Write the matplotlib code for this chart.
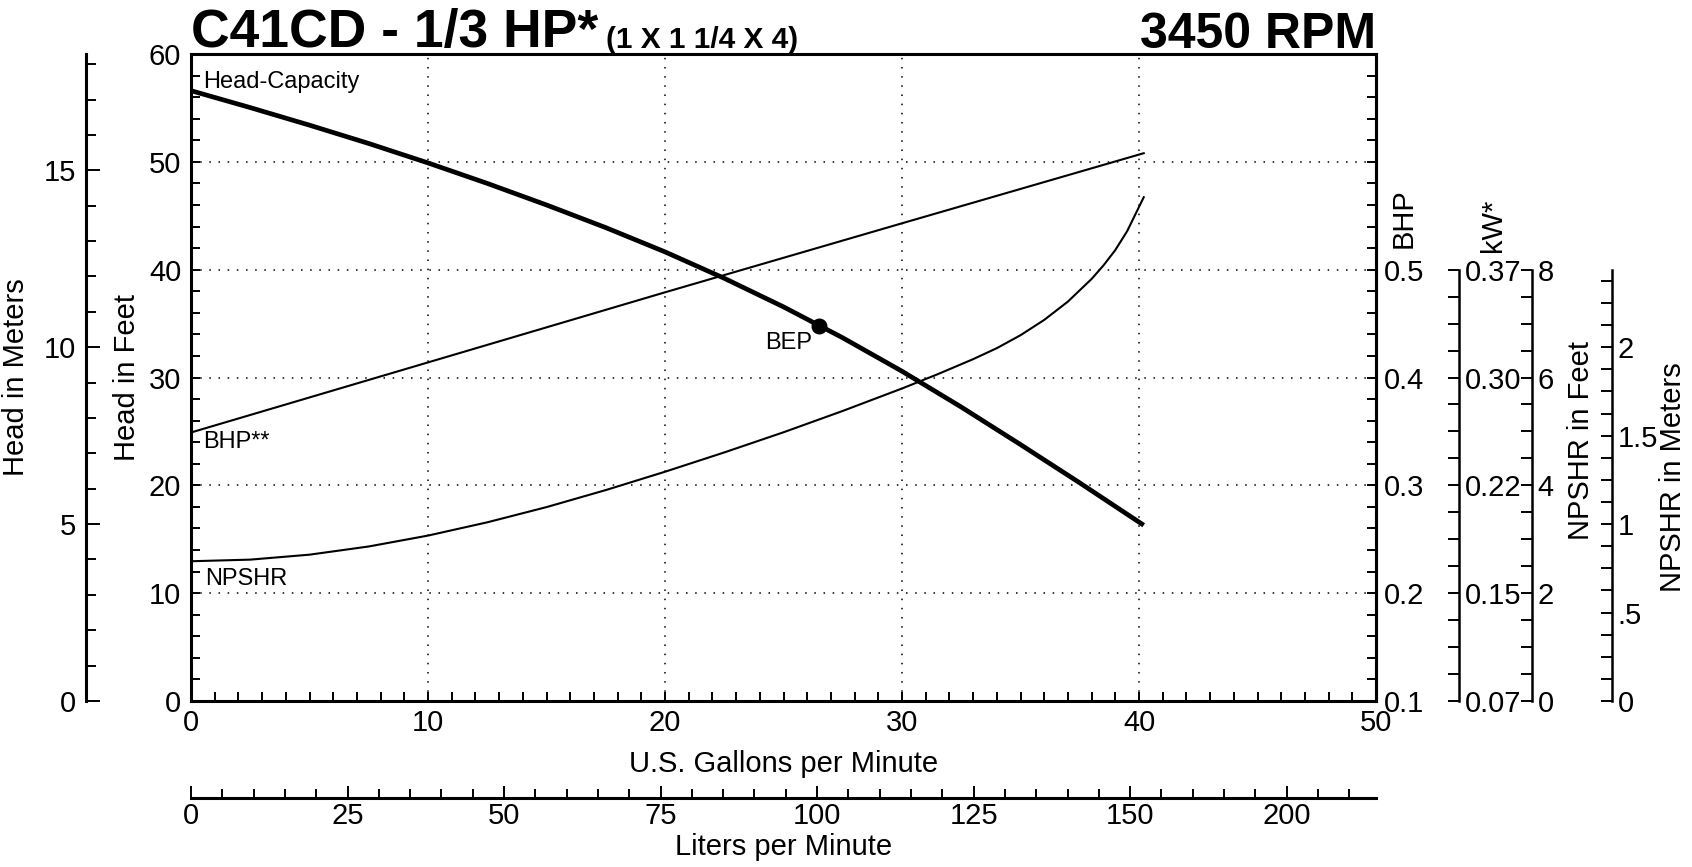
import numpy as np
import matplotlib
matplotlib.use('Agg')
import matplotlib.pyplot as plt
from matplotlib.ticker import FixedLocator, FixedFormatter, MultipleLocator

plt.rcParams['font.family'] = ['Liberation Sans', 'DejaVu Sans']

# ---------------- data ----------------
head_gpm = [0, 2.5, 5, 7.5, 10, 12.5, 15, 17.5, 20, 22.5, 25, 27.5, 30, 32.5, 35, 37.5, 40.2]
head_ft = [56.6, 55.03, 53.40, 51.70, 49.90, 48.00, 46.00, 43.90, 41.65, 39.20, 36.55,
           33.68, 30.58, 27.26, 23.78, 20.23, 16.30]

bhp_gpm = [0, 10, 20, 30, 40.2]
bhp_val = [0.349, 0.414, 0.479, 0.543, 0.608]

npshr_gpm = [0, 2.5, 5, 7.5, 10, 12.5, 15, 17.5, 20, 22.5, 25, 27.5, 30, 31.5, 33, 34, 35, 36,
             37, 38, 38.5, 39, 39.5, 40.2]
npshr_ft = [2.592, 2.622, 2.714, 2.866, 3.068, 3.314, 3.596, 3.912, 4.252, 4.610, 4.984, 5.380,
            5.796, 6.060, 6.340, 6.544, 6.784, 7.068, 7.408, 7.828, 8.078, 8.364, 8.714, 9.344]

bep_gpm = [26.5]
bep_head = [34.75]

gpm_ticks = [0, 10, 20, 30, 40, 50]
head_ft_ticks = [0, 10, 20, 30, 40, 50, 60]
head_m_ticks = [0, 5, 10, 15]
bhp_ticks = [0.1, 0.2, 0.3, 0.4, 0.5]
bhp_labels = ['0.1', '0.2', '0.3', '0.4', '0.5']
kw_labels = ['0.07', '0.15', '0.22', '0.30', '0.37']
npshr_ft_ticks = [0, 2, 4, 6, 8]
npshr_m_ticks = [0, 0.5, 1, 1.5, 2]
npshr_m_labels = ['0', '.5', '1', '1.5', '2']
lpm_ticks = [0, 25, 50, 75, 100, 125, 150, 175]
lpm_labels = ['0', '25', '50', '75', '100', '125', '150', '200']

FT_TO_M = 0.3048
GAL_TO_L = 3.78541

# ---------------- layout ----------------
W, H = 1692, 867
fig = plt.figure(figsize=(W / 100, H / 100), dpi=100)
L, R, T, B = 191, 1376, 54, 701
aw, ah = R - L, B - T
ax = fig.add_axes([L / W, 1 - B / H, aw / W, ah / H])

def xa(px):
    return (px - L) / aw

def ya(py):
    return (B - py) / ah

FS = 21
TICKLEN = 6.5
TICKW = 1.4

ax.set_xlim(0, 50)
ax.set_ylim(0, 60)
for s in ax.spines.values():
    s.set_linewidth(2.2)
ax.xaxis.set_major_locator(FixedLocator(gpm_ticks))
ax.xaxis.set_minor_locator(MultipleLocator(1))
ax.yaxis.set_major_locator(FixedLocator(head_ft_ticks))
ax.yaxis.set_minor_locator(MultipleLocator(2))
ax.tick_params(which='both', direction='in', top=True, right=False, left=True, bottom=True,
               length=TICKLEN, width=TICKW, labelsize=FS)
ax.tick_params(axis='x', pad=6)
ax.tick_params(axis='y', pad=7)
ax.grid(which='major', color='k', linestyle=(0, (1, 5)), linewidth=1.1)

ax.plot(head_gpm, head_ft, color='k', lw=3.4, solid_capstyle='butt', solid_joinstyle='round',
        zorder=5)
ax.plot(bep_gpm, bep_head, 'o', color='k', ms=10.5, zorder=6)

ANN = 17
ax.text(0.5, 57.4, 'Head-Capacity', fontsize=ANN, ha='left', va='center')
ax.text(0.5, 24.0, 'BHP**', fontsize=ANN, ha='left', va='center')
ax.text(0.6, 11.3, 'NPSHR', fontsize=ANN, ha='left', va='center')
ax.text(26.2, 33.2, 'BEP', fontsize=ANN, ha='right', va='center')

ax.set_xlabel('U.S. Gallons per Minute', fontsize=FS)
ax.xaxis.label.set_va('center')
ax.xaxis.set_label_coords(xa(784), ya(764))
ax.set_ylabel('Head in Feet', fontsize=FS)
ax.yaxis.label.set_va('center')
ax.yaxis.set_label_coords(xa(127), 0.5)

# ---- head in meters ----
axm = ax.twinx()
axm.set_ylim(0, 60 * FT_TO_M)
for k, s in axm.spines.items():
    s.set_visible(k == 'left')
axm.spines['left'].set_position(('axes', xa(86)))
axm.spines['left'].set_linewidth(2.2)
axm.yaxis.set_ticks_position('left')
axm.yaxis.set_label_position('left')
axm.yaxis.set_major_locator(FixedLocator(head_m_ticks))
axm.yaxis.set_minor_locator(MultipleLocator(1))
axm.tick_params(which='major', direction='in', length=10, width=TICKW, labelsize=FS, pad=7)
axm.tick_params(which='minor', direction='in', length=7, width=TICKW)
axm.set_ylabel('Head in Meters', fontsize=FS)
axm.yaxis.label.set_va('center')
axm.yaxis.set_label_coords(xa(16), 0.5)

# ---- BHP (main right spine) ----
axb = ax.twinx()
axb.set_ylim(0.1, 0.7)
for k, s in axb.spines.items():
    s.set_visible(k == 'right')
axb.spines['right'].set_linewidth(2.2)
axb.yaxis.set_major_locator(FixedLocator(bhp_ticks))
axb.yaxis.set_major_formatter(FixedFormatter(bhp_labels))
axb.yaxis.set_minor_locator(MultipleLocator(0.02))
axb.tick_params(which='both', direction='in', length=TICKLEN, width=TICKW, labelsize=FS, pad=6)
axb.plot(bhp_gpm, bhp_val, color='k', lw=1.5)

# ---- kW ----
axk = ax.twinx()
axk.set_ylim(0.1, 0.7)
for k, s in axk.spines.items():
    s.set_visible(k == 'right')
axk.spines['right'].set_position(('axes', xa(1459)))
axk.spines['right'].set_bounds(0.1, 0.5)
axk.spines['right'].set_linewidth(1.8)
axk.yaxis.set_major_locator(FixedLocator(bhp_ticks))
axk.yaxis.set_major_formatter(FixedFormatter(kw_labels))
axk.yaxis.set_minor_locator(FixedLocator(list(np.arange(0.1, 0.5001, 0.025))))
axk.tick_params(which='both', direction='in', length=8, width=TICKW, labelsize=FS, pad=4)

# ---- NPSHR feet ----
axn = ax.twinx()
axn.set_ylim(0, 12)
for k, s in axn.spines.items():
    s.set_visible(k == 'right')
axn.spines['right'].set_position(('axes', xa(1532)))
axn.spines['right'].set_bounds(0, 8)
axn.spines['right'].set_linewidth(1.8)
axn.yaxis.set_major_locator(FixedLocator(npshr_ft_ticks))
axn.yaxis.set_minor_locator(FixedLocator(list(np.arange(0, 8.001, 0.5))))
axn.tick_params(which='both', direction='in', length=8, width=TICKW, labelsize=FS, pad=4)
axn.plot(npshr_gpm, npshr_ft, color='k', lw=1.5, solid_joinstyle='round')

# ---- NPSHR meters ----
axnm = ax.twinx()
axnm.set_ylim(0, 12 * FT_TO_M)
for k, s in axnm.spines.items():
    s.set_visible(k == 'right')
axnm.spines['right'].set_position(('axes', xa(1612)))
axnm.spines['right'].set_bounds(0, 8 * FT_TO_M)
axnm.spines['right'].set_linewidth(1.8)
axnm.yaxis.set_major_locator(FixedLocator(npshr_m_ticks))
axnm.yaxis.set_major_formatter(FixedFormatter(npshr_m_labels))
axnm.yaxis.set_minor_locator(FixedLocator(list(np.arange(0, 8 * FT_TO_M, 0.125))))
axnm.tick_params(which='both', direction='in', length=8, width=TICKW, labelsize=FS, pad=4)

# ---- Liters per minute ----
axl = ax.twiny()
axl.set_xlim(0, 50 * GAL_TO_L)
for k, s in axl.spines.items():
    s.set_visible(k == 'bottom')
axl.spines['bottom'].set_position(('axes', ya(798)))
axl.spines['bottom'].set_linewidth(2.2)
axl.xaxis.set_ticks_position('bottom')
axl.xaxis.set_label_position('bottom')
axl.xaxis.set_major_locator(FixedLocator(lpm_ticks))
axl.xaxis.set_major_formatter(FixedFormatter(lpm_labels))
axl.xaxis.set_minor_locator(MultipleLocator(5))
axl.tick_params(which='major', direction='in', length=9, width=TICKW, labelsize=FS, pad=3)
axl.tick_params(which='minor', direction='in', length=6.5, width=TICKW)
axl.set_xlabel('Liters per Minute', fontsize=FS)
axl.xaxis.label.set_va('center')
axl.xaxis.set_label_coords(0.5, ya(847))

# ---- rotated side labels ----
ax.text(xa(1404), ya(218), 'BHP', rotation=90, fontsize=FS, ha='center', va='center',
        transform=ax.transAxes)
ax.text(xa(1493), ya(225), 'kW*', rotation=90, fontsize=FS, ha='center', va='center',
        transform=ax.transAxes)
ax.text(xa(1581), ya(441), 'NPSHR in Feet', rotation=90, fontsize=FS, ha='center', va='center',
        transform=ax.transAxes)
ax.text(xa(1673), ya(477), 'NPSHR in Meters', rotation=90, fontsize=FS, ha='center', va='center',
        transform=ax.transAxes)

# ---- titles ----
title = fig.text(L / W, 1 - 47.5 / H, 'C41CD - 1/3 HP*', fontsize=38.5, fontweight='bold',
                 ha='left', va='baseline')
fig.text(R / W, 1 - 47.5 / H, '3450 RPM', fontsize=36, fontweight='bold',
         ha='right', va='baseline')
fig.canvas.draw()
bb = title.get_window_extent()
fig.text((bb.x1 + 8) / W, 1 - 47.5 / H, '(1 X 1 1/4 X 4)', fontsize=21.5, fontweight='bold',
         ha='left', va='baseline')

fig.savefig('out.png', dpi=100)
